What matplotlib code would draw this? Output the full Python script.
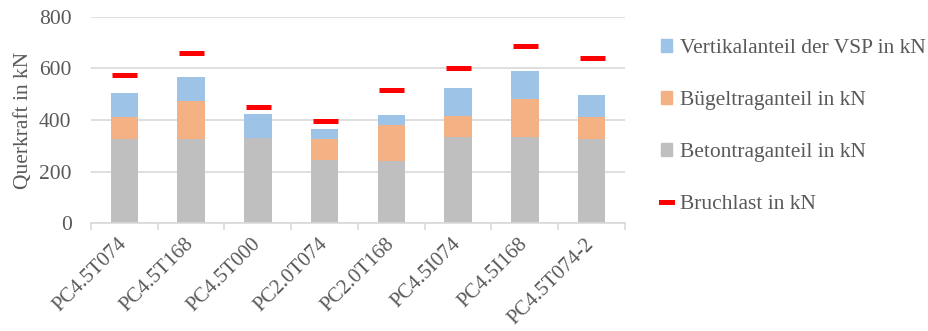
import matplotlib
matplotlib.use("Agg")
import matplotlib.pyplot as plt
import numpy as np
from matplotlib.lines import Line2D
from matplotlib.patches import Patch

categories = ["PC4.5T074", "PC4.5T168", "PC4.5T000", "PC2.0T074",
              "PC2.0T168", "PC4.5I074", "PC4.5I168", "PC4.5T074-2"]
beton = [326, 326, 329, 244, 240, 333, 333, 325]
buegel = [84, 149, 0, 81, 141, 84, 148, 85]
vsp = [93, 93, 93, 41, 39, 108, 109, 87]
bruchlast = [573, 658, 449, 395, 515, 600, 688, 639]

c_beton = "#bfbfbf"
c_buegel = "#f4b183"
c_vsp = "#9dc3e6"
c_bruch = "#ff0000"
text_col = "#595959"
grid_col = "#d9d9d9"
fs = 15.5

plt.rcParams["font.family"] = ["Liberation Serif", "DejaVu Serif"]

fig = plt.figure(figsize=(9.29, 3.31), dpi=100)
ax = fig.add_axes([91 / 929, 1 - 223.3 / 331, (625 - 91) / 929, (223.3 - 16.7) / 331])

x = np.arange(len(categories))
w = 0.41
b1 = np.array(beton)
b2 = b1 + np.array(buegel)
ax.bar(x, beton, w, color=c_beton, zorder=2)
ax.bar(x, buegel, w, bottom=b1, color=c_buegel, zorder=2)
ax.bar(x, vsp, w, bottom=b2, color=c_vsp, zorder=2)
ax.plot(x, bruchlast, linestyle="none", marker="_", markersize=18,
        markeredgewidth=3.6, color=c_bruch, zorder=3)

ax.set_xlim(-0.5, len(categories) - 0.5)
ax.set_ylim(0, 800)
ax.set_yticks([0, 200, 400, 600, 800])
ax.yaxis.grid(True, color=grid_col, linewidth=1.2, zorder=0)
ax.set_axisbelow(True)

for s in ["left", "right", "top"]:
    ax.spines[s].set_visible(False)
ax.spines["bottom"].set_color(grid_col)
ax.spines["bottom"].set_linewidth(1.2)

ax.set_xticks(x)
ax.set_xticklabels(categories, rotation=45, ha="right", va="center",
                   rotation_mode="anchor")
ax.set_xticks(np.arange(-0.5, len(categories)), minor=True)
ax.tick_params(axis="x", which="major", length=0, pad=13, labelsize=15, labelcolor=text_col)
ax.tick_params(axis="x", which="minor", length=5, color=grid_col, width=1.2)
ax.tick_params(axis="y", length=0, pad=14, labelsize=fs, labelcolor=text_col)
ax.set_ylabel("Querkraft in kN", fontsize=fs, color=text_col, labelpad=4)

handles = [
    Patch(color=c_vsp, label="Vertikalanteil der VSP in kN"),
    Patch(color=c_buegel, label="Bügeltraganteil in kN"),
    Patch(color=c_beton, label="Betontraganteil in kN"),
    Line2D([0], [0], color=c_bruch, linewidth=3.6, label="Bruchlast in kN"),
]
leg = fig.legend(handles=handles, loc="upper left", bbox_to_anchor=(652 / 929, 1 - 30 / 331),
                 frameon=False, fontsize=fs, labelspacing=1.53, handlelength=0.55,
                 handleheight=0.55, handletextpad=0.35, borderaxespad=0)
for t in leg.get_texts():
    t.set_color(text_col)

fig.savefig("out.png", dpi=100)
